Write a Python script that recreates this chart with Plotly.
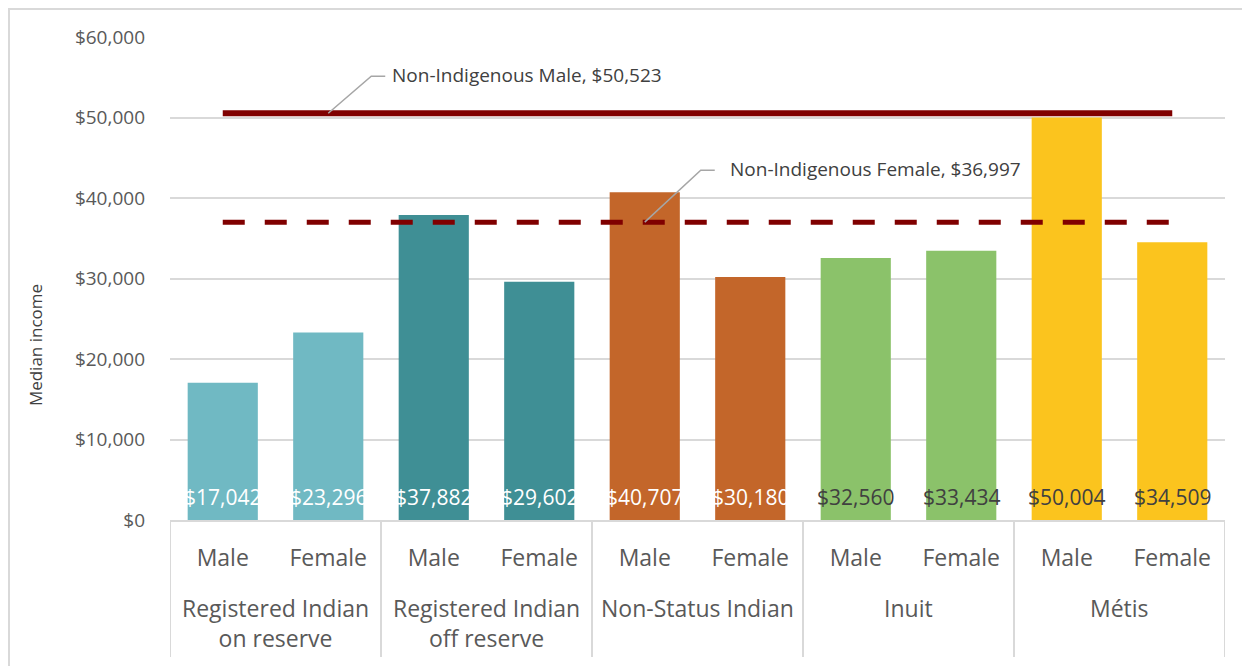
import plotly.graph_objects as go

groups = ["Registered Indian<br>on reserve", "Registered Indian<br>off reserve",
          "Non-Status Indian", "Inuit", "Métis"]
sexes = ["Male", "Female"]
values = [17042, 23296, 37882, 29602, 40707, 30180, 32560, 33434, 50004, 34509]
group_colors = ["#70B9C3", "#3F8F95", "#C3662A", "#8BC26A", "#FBC41E"]
label_colors = ["#FFFFFF", "#FFFFFF", "#FFFFFF", "#404040", "#404040"]

non_indig_male = 50523
non_indig_female = 36997
male_label = "Non-Indigenous Male, $50,523"
female_label = "Non-Indigenous Female, $36,997"
y_ticks = [0, 10000, 20000, 30000, 40000, 50000, 60000]
y_tick_labels = ["$0", "$10,000", "$20,000", "$30,000", "$40,000", "$50,000", "$60,000"]

n_sex = len(sexes)
x_idx = list(range(len(groups) * n_sex))
x_sexes = [s for _ in groups for s in sexes]
bar_colors = [c for c in group_colors for _ in sexes]
txt_colors = [c for c in label_colors for _ in sexes]
texts = ["${:,}".format(v) for v in values]

FONT = "Open Sans"
LINE_COLOR = "#800000"
AXIS_GRAY = "#D9D9D9"
LABEL_GRAY = "#595959"

fig = go.Figure()
fig.add_trace(go.Bar(
    x=x_idx, y=values,
    marker=dict(color=bar_colors, line=dict(width=0)),
    hoverinfo="skip", showlegend=False,
))

fig.add_trace(go.Scatter(
    x=[x_idx[0], x_idx[-1]], y=[non_indig_male, non_indig_male],
    mode="lines", line=dict(color=LINE_COLOR, width=6),
    showlegend=False, hoverinfo="skip",
))
fig.add_trace(go.Scatter(
    x=[x_idx[0], x_idx[-1]], y=[non_indig_female, non_indig_female],
    mode="lines", line=dict(color=LINE_COLOR, width=5, dash="22px,20px"),
    showlegend=False, hoverinfo="skip",
))

# value labels at the base of each bar
for i, (t, c) in zip(x_idx, zip(texts, txt_colors)):
    fig.add_annotation(x=i, y=0, xref="x", yref="y", text=t, showarrow=False,
                       xanchor="center", yanchor="middle", yshift=23,
                       font=dict(family=FONT, size=21, color=c))

# group labels (second axis level) and dividers between groups
for gi, g in enumerate(groups):
    center = gi * n_sex + (n_sex - 1) / 2
    fig.add_annotation(x=center, y=0, xref="x", yref="paper", text=g, showarrow=False,
                       xanchor="center", yanchor="top", yshift=-70, align="center",
                       font=dict(family=FONT, size=23, color=LABEL_GRAY))
for b in range(len(groups) + 1):
    xb = b * n_sex - 0.5
    fig.add_shape(type="line", xref="x", yref="paper", x0=xb, x1=xb, y0=0, y1=-0.2836,
                  line=dict(color=AXIS_GRAY, width=2))

# leader lines (pixel offsets from anchor points on the reference lines)
fig.add_shape(type="path", xref="x", yref="y", xsizemode="pixel", ysizemode="pixel",
              xanchor=1, yanchor=non_indig_male,
              path="M0,0 L43,37 L57,37", line=dict(color="#A6A6A6", width=1.5))
fig.add_shape(type="path", xref="x", yref="y", xsizemode="pixel", ysizemode="pixel",
              xanchor=4, yanchor=non_indig_female,
              path="M0,0 L56,52 L70,52", line=dict(color="#A6A6A6", width=1.5))

fig.add_annotation(x=1, y=non_indig_male, xref="x", yref="y", text=male_label,
                   showarrow=False, xanchor="left", yanchor="middle",
                   xshift=62, yshift=38, font=dict(family=FONT, size=19, color="#404040"))
fig.add_annotation(x=4, y=non_indig_female, xref="x", yref="y", text=female_label,
                   showarrow=False, xanchor="left", yanchor="middle",
                   xshift=83, yshift=53, font=dict(family=FONT, size=19, color="#404040"))

# y axis title
fig.add_annotation(x=-0.128, y=0.362, xref="paper", yref="paper", text="Median income",
                   textangle=-90, showarrow=False, xanchor="center", yanchor="middle",
                   font=dict(family=FONT, size=17, color="#404040"))

# outer chart border
fig.add_shape(type="rect", xref="paper", yref="paper",
              x0=-0.1526, x1=1.04, y0=-0.34, y1=1.058,
              line=dict(color=AXIS_GRAY, width=2), layer="below")

fig.update_layout(
    width=1250, height=666,
    margin=dict(l=162, r=33, t=29, b=154),
    paper_bgcolor="white", plot_bgcolor="white",
    bargap=0.335,
    font=dict(family=FONT, color=LABEL_GRAY),
    xaxis=dict(
        range=[x_idx[0] - 0.5, x_idx[-1] + 0.5],
        tickvals=x_idx, ticktext=x_sexes,
        showline=True, linecolor=AXIS_GRAY, linewidth=2,
        tickfont=dict(family=FONT, size=23, color=LABEL_GRAY),
        ticks="", showgrid=False, zeroline=False,
        ticklabelstandoff=16,
    ),
    yaxis=dict(
        range=[0, 60000], tickvals=y_ticks, ticktext=y_tick_labels,
        showgrid=True, gridcolor=AXIS_GRAY, gridwidth=2,
        zeroline=False, showline=False,
        tickfont=dict(family=FONT, size=19, color=LABEL_GRAY),
        ticklabelstandoff=24,
    ),
)

fig.write_html("out.html")
